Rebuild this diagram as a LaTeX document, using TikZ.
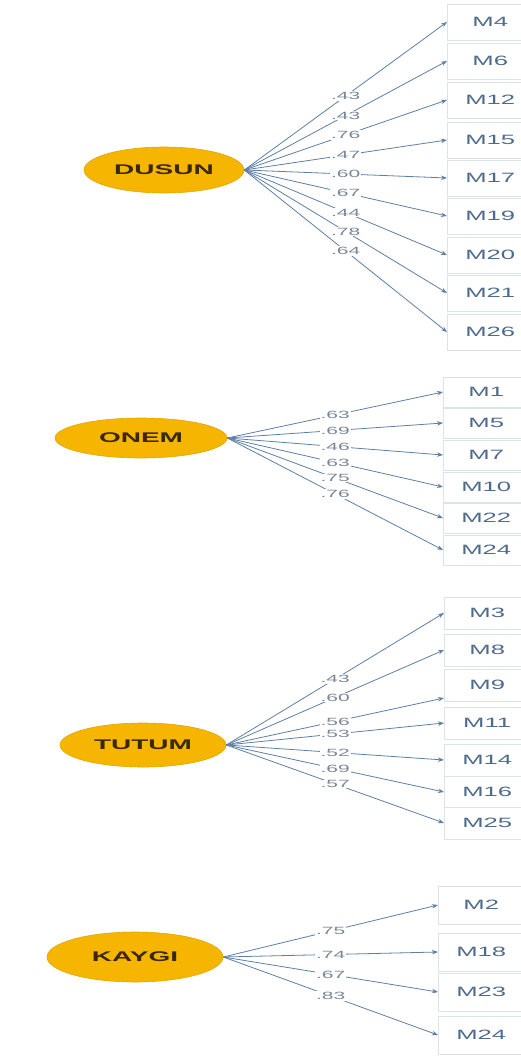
\documentclass[tikz,border=0pt]{standalone}
\usepackage{fontspec}
\newfontfamily\wfont[FakeStretch=2]{Liberation Sans}
\newfontfamily\ifont[FakeStretch=1.9]{Liberation Sans}
\usetikzlibrary{shapes.geometric,arrows.meta}
\definecolor{lvfill}{HTML}{F6B500}
\definecolor{lvtext}{HTML}{3A2800}
\definecolor{boxline}{HTML}{DCE3EA}
\definecolor{indtext}{HTML}{4E6B8C}
\definecolor{linec}{HTML}{5E7FA3}
\definecolor{ldtext}{HTML}{7A8797}
\tikzset{
  lv/.style={ellipse, fill=lvfill, draw=lvfill!92!black, line width=0.6pt, inner sep=0pt,
    font=\wfont\bfseries\fontsize{14}{14}\selectfont, text=lvtext},
  ind/.style={draw=boxline, fill=white, anchor=west, minimum width=86pt, inner sep=0pt,
    font=\ifont\fontsize{13.5}{14}\selectfont, text=indtext},
  ld/.style={fill=white, inner sep=0.8pt, font=\wfont\fontsize{10.5}{11}\selectfont, text=ldtext},
  ar/.style={draw=linec, line width=0.8pt, -{Stealth[length=6pt,width=4.5pt]}}
}
\begin{document}
\begin{tikzpicture}[x=1pt,y=-1pt]
\useasboundingbox (0,0) rectangle (521,1059);
\clip (0,0) rectangle (521,1059);
% ---------------- DUSUN
\node[lv, minimum width=160pt, minimum height=46pt] (dusun) at (164,170) {DUSUN};
\foreach \n/\y in {M4/22, M6/61, M12/100, M15/140, M17/178, M19/216, M20/255, M21/293, M26/332}
  \node[ind, minimum height=36pt] (\n) at (447,\y) {\n};
\foreach \n/\l in {M4/.43, M6/.43, M12/.76, M15/.47, M17/.60, M19/.67, M20/.44, M21/.78, M26/.64}
  \draw[ar] (dusun.east) -- node[ld]{\l} (\n.west);
% ---------------- ONEM
\node[lv, minimum width=172pt, minimum height=40pt] (onem) at (141,438) {ONEM};
\foreach \n/\y in {M1/392, M5/423, M7/455, M10/487, M22/518, M24/550}
  \node[ind, minimum height=30pt] (o\n) at (443,\y) {\n};
\foreach \n/\l in {M1/.63, M5/.69, M7/.46, M10/.63, M22/.75, M24/.76}
  \draw[ar] (onem.east) -- node[ld]{\l} (o\n.west);
% ---------------- TUTUM
\node[lv, minimum width=166pt, minimum height=44pt] (tutum) at (143,745) {TUTUM};
\foreach \n/\y in {M3/613, M8/650, M9/685, M11/723, M14/760, M16/792, M25/823}
  \node[ind, minimum height=32pt] (t\n) at (444,\y) {\n};
\coordinate (m9in) at (444,698);
\draw[ar] (tutum.east) -- node[ld]{.43} (tM3.west);
\draw[ar] (tutum.east) -- node[ld]{.60} (tM8.west);
\draw[ar] (tutum.east) -- node[ld]{.56} (m9in);
\draw[ar] (tutum.east) -- node[ld]{.53} (tM11.west);
\draw[ar] (tutum.east) -- node[ld]{.52} (tM14.west);
\draw[ar] (tutum.east) -- node[ld]{.69} (tM16.west);
\draw[ar] (tutum.east) -- node[ld]{.57} (tM25.west);
% ---------------- KAYGI
\node[lv, minimum width=176pt, minimum height=50pt] (kaygi) at (135,957) {KAYGI};
\foreach \n/\y in {M2/905, M18/952, M23/992, M24/1035}
  \node[ind, minimum height=38pt] (k\n) at (438,\y) {\n};
\foreach \n/\l in {M2/.75, M18/.74, M23/.67, M24/.83}
  \draw[ar] (kaygi.east) -- node[ld]{\l} (k\n.west);
\end{tikzpicture}
\end{document}
